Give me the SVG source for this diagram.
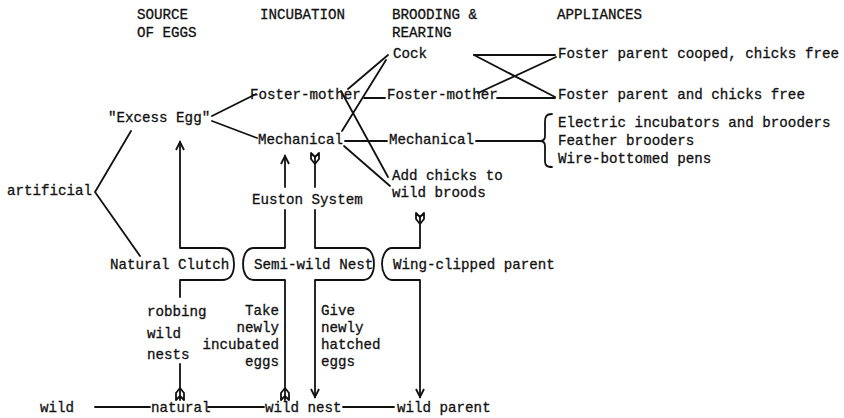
<svg xmlns="http://www.w3.org/2000/svg" width="844" height="418" viewBox="0 0 844 418">
<defs>
<style>
text{font-family:"Liberation Mono","Courier New",monospace;font-size:14.2px;fill:#111;stroke:#111;stroke-width:0.3}
.c path,.c line{fill:none;stroke:#111;stroke-width:1.8;stroke-linecap:round;stroke-linejoin:round}
.f{fill:#111;stroke:none}
</style>
<marker id="ah" markerWidth="12" markerHeight="12" refX="9" refY="5" orient="auto" markerUnits="userSpaceOnUse">
<path d="M1,1 L9,5 L1,9" fill="none" stroke="#111" stroke-width="1.8"/>
</marker>
</defs>
<rect width="844" height="418" fill="#fff"/>
<g id="headers">
<text x="137" y="19">SOURCE</text>
<text x="137" y="37">OF EGGS</text>
<text x="260" y="19">INCUBATION</text>
<text x="392" y="19">BROODING &amp;</text>
<text x="392" y="37">REARING</text>
<text x="557" y="19">APPLIANCES</text>
</g>
<g id="artificial"><text x="7" y="195">artificial</text></g>
<g id="excess-egg"><text x="108" y="122">"Excess Egg"</text></g>
<g id="natural-clutch"><text x="110" y="269">Natural Clutch</text></g>
<g id="semi-wild-nest"><text x="254" y="269">Semi-wild Nest</text></g>
<g id="wing-clipped"><text x="393" y="269">Wing-clipped parent</text></g>
<g id="inc-foster"><text x="250" y="99">Foster-mother</text></g>
<g id="inc-mech"><text x="258" y="144">Mechanical</text></g>
<g id="euston"><text x="252" y="204">Euston System</text></g>
<g id="cock"><text x="393" y="58">Cock</text></g>
<g id="br-foster"><text x="387" y="99">Foster-mother</text></g>
<g id="br-mech"><text x="389" y="144">Mechanical</text></g>
<g id="add-chicks"><text x="392" y="180">Add chicks to</text><text x="392" y="197">wild broods</text></g>
<g id="app-cooped"><text x="558" y="58">Foster parent cooped, chicks free</text></g>
<g id="app-free"><text x="558" y="99">Foster parent and chicks free</text></g>
<g id="app-mech">
<text x="558" y="127">Electric incubators and brooders</text>
<text x="558" y="145">Feather brooders</text>
<text x="558" y="163">Wire-bottomed pens</text>
</g>
<g id="robbing"><text x="147" y="316">robbing</text><text x="147" y="338">wild</text><text x="147" y="359">nests</text></g>
<g id="take" text-anchor="end"><text x="279" y="315">Take</text><text x="279" y="332">newly</text><text x="279" y="349">incubated</text><text x="279" y="366">eggs</text></g>
<g id="give"><text x="321" y="315">Give</text><text x="321" y="332">newly</text><text x="321" y="349">hatched</text><text x="321" y="366">eggs</text></g>
<g id="wild"><text x="40" y="412">wild</text></g>
<g id="natural"><text x="151" y="412">natural</text></g>
<g id="wild-nest"><text x="265" y="412">wild nest</text></g>
<g id="wild-parent"><text x="397" y="412">wild parent</text></g>
<g id="connectors" class="c">
<!-- artificial bracket -->
<path d="M131,131 L95,192 L140,256"/>
<!-- excess egg to incubation -->
<line x1="212" y1="116" x2="256" y2="94"/>
<line x1="212" y1="121" x2="257" y2="138"/>
<!-- incubation to brooding -->
<line x1="348" y1="89" x2="388" y2="55"/>
<line x1="342" y1="131" x2="386" y2="60"/>
<line x1="341" y1="91" x2="388" y2="177"/>
<line x1="344" y1="146" x2="390" y2="186"/>
<line x1="364" y1="98" x2="385" y2="98"/>
<line x1="345" y1="141" x2="387" y2="141"/>
<!-- brooding to appliances -->
<line x1="474" y1="55" x2="555" y2="55"/>
<line x1="474" y1="55" x2="555" y2="97"/>
<line x1="478" y1="93" x2="556" y2="57"/>
<line x1="497" y1="98" x2="555" y2="98"/>
<line x1="476" y1="141" x2="540" y2="141"/>
<path d="M552,114 C546,114 545,117 545,122 L545,136 C545,139 543,141 540,141 C543,141 545,143 545,146 L545,161 C545,165 546,167 552,167"/>
<!-- natural clutch -->
<path d="M180,297 L180,280 L222,280 C232,280 234,272 234,264 C234,256 232,248 222,248 L180,248 L180,142" marker-end="url(#ah)"/>
<line x1="180" y1="364" x2="180" y2="400"/>
<!-- semi-wild nest left (take) -->
<path d="M285,400 L285,280 L254,280 C246,280 243,272 243,264 C243,256 246,248 254,248 L285,248 L285,210"/>
<line x1="285" y1="187" x2="285" y2="156" marker-end="url(#ah)"/>
<!-- semi-wild nest right (give) -->
<line x1="315" y1="157" x2="315" y2="187"/>
<path d="M315,210 L315,248 L363,248 C371,248 374,256 374,264 C374,272 371,280 363,280 L315,280 L315,397" marker-end="url(#ah)"/>
<!-- wing-clipped -->
<path d="M420,216 L420,248 L392,248 C386,248 382,256 382,264 C382,272 386,280 392,280 L420,280 L420,397" marker-end="url(#ah)"/>
<!-- fletchings -->
<path class="f" d="M176,393 L180,388 L184,393 L184,400 L180,396 L176,400 Z"/>
<path class="f" d="M281,393 L285,388 L289,393 L289,400 L285,396 L281,400 Z"/>
<path class="f" d="M311,153 L315,157 L319,153 L319,159 L315,164 L311,159 Z"/>
<path class="f" d="M416,213 L420,217 L424,213 L424,219 L420,224 L416,219 Z"/>
<!-- bottom line -->
<line x1="95" y1="407" x2="150" y2="407"/>
<line x1="208" y1="407" x2="264" y2="407"/>
<line x1="343" y1="407" x2="394" y2="407"/>
</g>
</svg>
